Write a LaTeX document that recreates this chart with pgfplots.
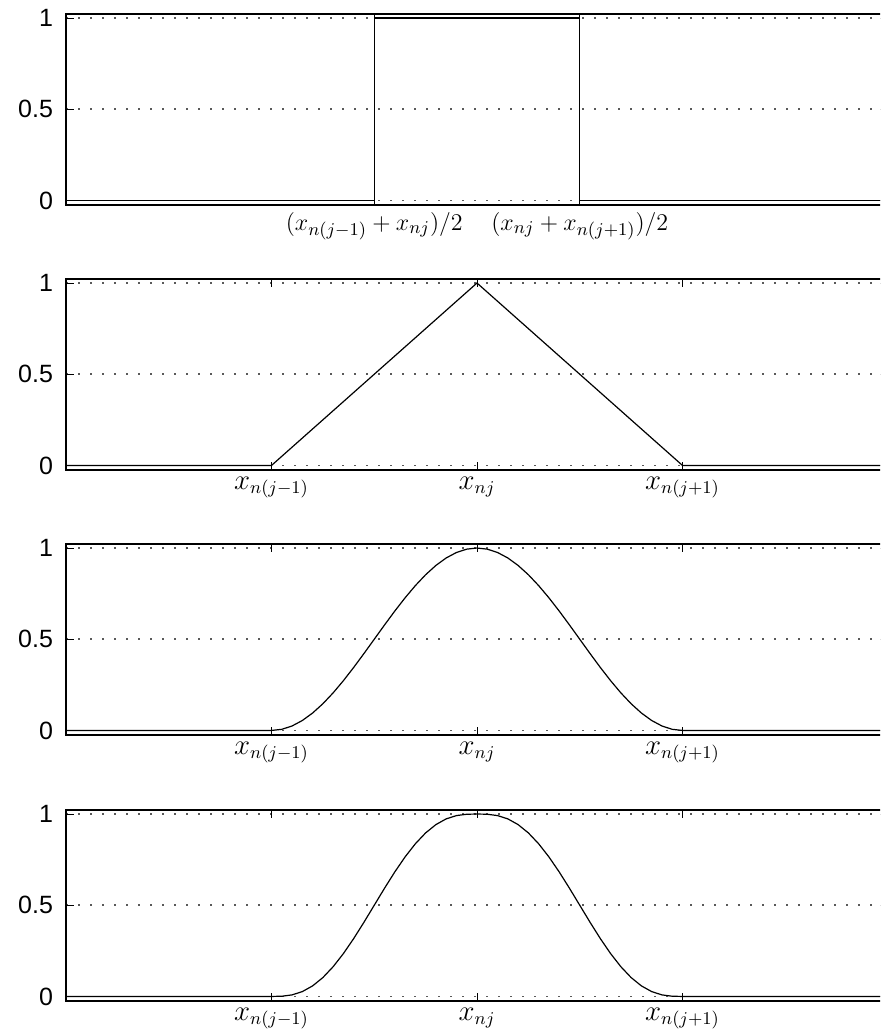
\documentclass[border=0pt]{standalone}
\usepackage{pgfplots}
\pgfplotsset{compat=1.18}
\usepackage{fontspec}
\newfontfamily\arial{Liberation Sans}

\pgfplotsset{
  basis/.style={
    scale only axis,
    width=411pt, height=95.5pt,
    xmin=-2, xmax=2,
    ymin=-0.025, ymax=1.022,
    anchor=north west,
    axis line style={line width=0.8pt},
    tick style={black, line width=0.5pt},
    major tick length=4pt,
    ytick={0,0.5,1},
    yticklabels={{\arial 0},{\arial 0.5},{\arial 1}},
    yticklabel style={font=\fontsize{12.5}{14}\selectfont, xshift=-3pt},
    xticklabel style={font=\fontsize{13.5}{15}\selectfont},
    ymajorgrids,
    grid style={black!65, line width=0.75pt, dash pattern=on 0.75pt off 5.25pt},
  },
  nodes/.style={
    xtick={-1,0,1},
    xticklabels={$x_{n(j-1)}$,$x_{nj}$,$x_{n(j+1)}$},
  },
  curve/.style={black, line width=0.6pt, mark=none},
}

\begin{document}
\begin{tikzpicture}
\useasboundingbox (0,0) rectangle (440pt,-515pt);
\clip (0,0) rectangle (440pt,-515pt);

% piecewise constant basis function
\begin{axis}[basis, at={(33pt,-7pt)},
  xtick={-0.5,0.5},
  xticklabel style={font=\fontsize{13}{15}\selectfont},
  xticklabels={$(x_{n(j-1)}+x_{nj})/2$,$(x_{nj}+x_{n(j+1)})/2$}]
\addplot[curve] coordinates {(-2,0) (-0.5,0) (-0.5,1) (0.5,1) (0.5,0) (2,0)};
\end{axis}

% piecewise linear (hat) basis function
\begin{axis}[basis, nodes, at={(33pt,-139.5pt)}]
\addplot[curve] coordinates {(-2,0) (-1,0) (0,1) (1,0) (2,0)};
\end{axis}

% smooth C1 basis function
\begin{axis}[basis, nodes, at={(33pt,-272pt)}]
\addplot[curve] coordinates {
(-2,0) (-1,0)
(-0.95,0.006156) (-0.9,0.024472) (-0.85,0.054497) (-0.8,0.095492)
(-0.75,0.146447) (-0.7,0.206107) (-0.65,0.273005) (-0.6,0.345492)
(-0.55,0.421783) (-0.5,0.5) (-0.45,0.578217) (-0.4,0.654508)
(-0.35,0.726995) (-0.3,0.793893) (-0.25,0.853553) (-0.2,0.904508)
(-0.15,0.945503) (-0.1,0.975528) (-0.05,0.993844) (0,1)
(0.05,0.993844) (0.1,0.975528) (0.15,0.945503) (0.2,0.904508)
(0.25,0.853553) (0.3,0.793893) (0.35,0.726995) (0.4,0.654508)
(0.45,0.578217) (0.5,0.5) (0.55,0.421783) (0.6,0.345492)
(0.65,0.273005) (0.7,0.206107) (0.75,0.146447) (0.8,0.095492)
(0.85,0.054497) (0.9,0.024472) (0.95,0.006156) (1,0)
(2,0)};
\end{axis}

% smooth C2 basis function
\begin{axis}[basis, nodes, at={(33pt,-405pt)}]
\addplot[curve] coordinates {
(-2,0) (-1,0)
(-0.95,0.001158) (-0.9,0.00856) (-0.85,0.026612) (-0.8,0.05792)
(-0.75,0.103516) (-0.7,0.16308) (-0.65,0.235169) (-0.6,0.31744)
(-0.55,0.406873) (-0.5,0.5) (-0.45,0.593127) (-0.4,0.68256)
(-0.35,0.764831) (-0.3,0.83692) (-0.25,0.896484) (-0.2,0.94208)
(-0.15,0.973388) (-0.1,0.99144) (-0.05,0.998842) (0,1)
(0.05,0.998842) (0.1,0.99144) (0.15,0.973388) (0.2,0.94208)
(0.25,0.896484) (0.3,0.83692) (0.35,0.764831) (0.4,0.68256)
(0.45,0.593127) (0.5,0.5) (0.55,0.406873) (0.6,0.31744)
(0.65,0.235169) (0.7,0.16308) (0.75,0.103516) (0.8,0.05792)
(0.85,0.026612) (0.9,0.00856) (0.95,0.001158) (1,0)
(2,0)};
\end{axis}
\end{tikzpicture}
\end{document}
